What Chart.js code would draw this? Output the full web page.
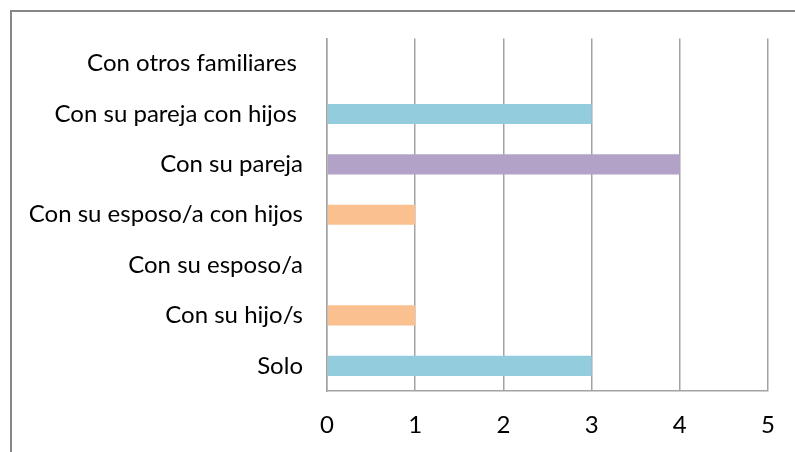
<!DOCTYPE html>
<html>
<head>
<meta charset="utf-8">
<script src="https://cdn.jsdelivr.net/npm/chart.js@4"></script>
<style>
  html, body { margin: 0; padding: 0; background: #fff; }
  #wrap { position: relative; width: 795px; height: 452px; overflow: hidden; }
  #frame {
    position: absolute; left: 10px; top: 10px; width: 820px; height: 480px;
    border-left: 2px solid #878787; border-top: 2px solid #878787;
    pointer-events: none;
  }
  canvas { position: absolute; left: 0; top: 0; }
</style>
</head>
<body>
<div id="wrap">
  <canvas id="livingChart" width="795" height="452"></canvas>
  <div id="frame"></div>
</div>
<script>
// ---- Data ----
const categories = [
  "Con otros familiares ",
  "Con su pareja con hijos ",
  "Con su pareja",
  "Con su esposo/a con hijos",
  "Con su esposo/a",
  "Con su hijo/s",
  "Solo"
];
const counts = [0, 3, 4, 1, 0, 1, 3];
const barColors = ["#93CDDD", "#93CDDD", "#B3A2C7", "#FAC090", "#FAC090", "#FAC090", "#93CDDD"];
const xTicks = [0, 1, 2, 3, 4, 5];

const gridGray = "#a3a3a3";
const labelFont = { family: "Lato, 'Open Sans', sans-serif", size: 24 };

const ctx = document.getElementById("livingChart").getContext("2d");
new Chart(ctx, {
  type: "bar",
  data: {
    labels: categories,
    datasets: [{
      data: counts,
      backgroundColor: barColors,
      borderWidth: 0,
      barPercentage: 0.4,
      categoryPercentage: 1
    }]
  },
  options: {
    indexAxis: "y",
    responsive: false,
    animation: false,
    layout: { padding: { top: 38, right: 19, bottom: 0, left: 0 } },
    plugins: {
      legend: { display: false },
      tooltip: { enabled: false }
    },
    scales: {
      x: {
        min: xTicks[0],
        max: xTicks[xTicks.length - 1],
        afterBuildTicks: (scale) => { scale.ticks = xTicks.map(v => ({ value: v })); },
        afterFit: (scale) => { scale.height = 61; },
        ticks: { color: "#000", font: labelFont, padding: 20 },
        grid: { color: gridGray, lineWidth: 1.5, drawTicks: false },
        border: { color: gridGray, width: 1.5 }
      },
      y: {
        afterFit: (scale) => { scale.width = 327; },
        ticks: { color: "#000", font: labelFont, padding: 24 },
        grid: { display: false, drawTicks: false },
        border: { color: gridGray, width: 1.5 }
      }
    }
  }
});
</script>
</body>
</html>
